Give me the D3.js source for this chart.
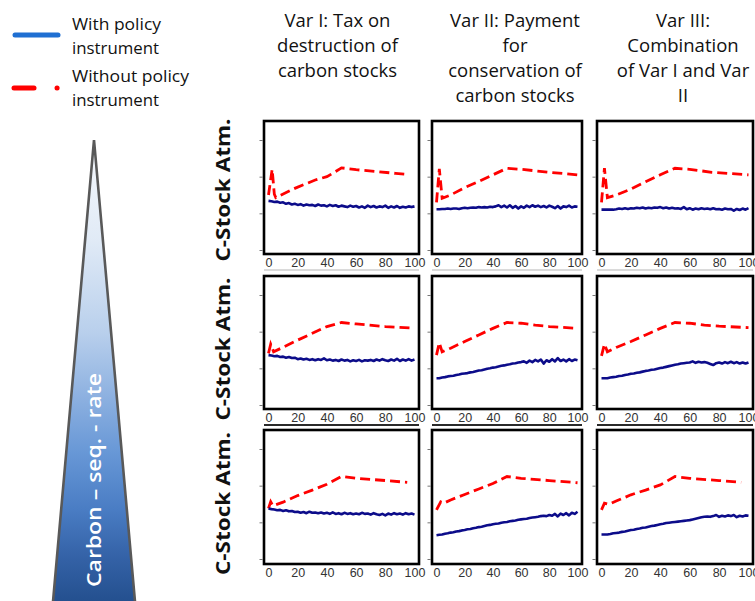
<!DOCTYPE html>
<html><head><meta charset="utf-8">
<script src="https://cdn.jsdelivr.net/npm/d3@7"></script>
<style>html,body{margin:0;padding:0;background:#fff;} svg{display:block;}</style>
</head><body><svg id="c" width="755" height="601"></svg>
<script>
// ---------- DATA ----------
const legendLabels = [["With policy", "instrument"], ["Without policy", "instrument"]];
const columnTitles = [
  ["Var I: Tax on", "destruction of", "carbon stocks"],
  ["Var II: Payment", "for", "conservation of", "carbon stocks"],
  ["Var III:", "Combination", "of Var I and Var", "II"]
];
const rowLabel = "C-Stock Atm.";
const rateLabel = "Carbon \u2013 seq. - rate";
const xTicks = [0, 20, 40, 60, 80, 100];
const yTicks = [0, 1, 2, 3];
const timeSteps = [0,2,4,6,8,10,12,14,16,18,20,22,24,26,28,30,32,34,36,38,40,42,44,46,48,50,52,54,56,58,60,62,64,66,68,70,72,74,76,78,80,82,84,86,88,90,92,94,96,98,100];

// "With policy instrument" (blue) – one value per time step
const withPolicyR1C1 = [1.34,1.33,1.31,1.32,1.29,1.30,1.26,1.28,1.24,1.26,1.23,1.25,1.21,1.24,1.22,1.23,1.20,1.24,1.21,1.22,1.19,1.23,1.20,1.22,1.18,1.21,1.19,1.17,1.21,1.18,1.20,1.16,1.19,1.15,1.21,1.17,1.20,1.16,1.19,1.17,1.21,1.15,1.19,1.16,1.20,1.15,1.18,1.16,1.19,1.17,1.19];
const withPolicyR1C2 = [1.11,1.11,1.12,1.12,1.13,1.12,1.13,1.13,1.12,1.14,1.15,1.14,1.15,1.16,1.15,1.17,1.16,1.17,1.16,1.18,1.17,1.19,1.22,1.17,1.21,1.16,1.22,1.15,1.20,1.13,1.19,1.15,1.21,1.17,1.22,1.18,1.21,1.17,1.20,1.16,1.21,1.18,1.14,1.20,1.13,1.19,1.17,1.21,1.16,1.19,1.18];
const withPolicyR1C3 = [1.10,1.10,1.10,1.10,1.10,1.11,1.13,1.12,1.14,1.12,1.14,1.13,1.15,1.14,1.16,1.13,1.15,1.14,1.16,1.15,1.17,1.14,1.16,1.13,1.15,1.13,1.14,1.12,1.17,1.11,1.14,1.10,1.13,1.11,1.14,1.12,1.13,1.11,1.14,1.11,1.12,1.10,1.13,1.11,1.12,1.07,1.12,1.09,1.13,1.10,1.14];
const withPolicyR2C1 = [1.36,1.35,1.33,1.34,1.31,1.32,1.29,1.31,1.28,1.29,1.25,1.27,1.24,1.26,1.23,1.25,1.22,1.25,1.23,1.27,1.22,1.24,1.21,1.23,1.20,1.24,1.21,1.23,1.19,1.22,1.20,1.23,1.19,1.22,1.21,1.23,1.20,1.24,1.21,1.25,1.22,1.20,1.24,1.21,1.26,1.20,1.24,1.21,1.25,1.21,1.24];
const withPolicyR2C2 = [0.73,0.73,0.75,0.76,0.78,0.79,0.80,0.82,0.83,0.85,0.86,0.87,0.89,0.90,0.92,0.94,0.95,0.97,0.99,1.00,1.02,1.03,1.05,1.07,1.08,1.10,1.11,1.13,1.14,1.16,1.17,1.19,1.15,1.21,1.17,1.23,1.19,1.24,1.13,1.22,1.18,1.25,1.19,1.28,1.20,1.24,1.19,1.25,1.20,1.24,1.22];
const withPolicyR2C3 = [0.73,0.73,0.73,0.75,0.76,0.77,0.79,0.80,0.82,0.83,0.85,0.86,0.88,0.89,0.91,0.93,0.94,0.96,0.97,0.99,1.01,1.02,1.04,1.06,1.08,1.10,1.11,1.13,1.14,1.15,1.16,1.19,1.15,1.18,1.16,1.17,1.15,1.12,1.09,1.14,1.16,1.13,1.17,1.14,1.18,1.14,1.17,1.13,1.16,1.13,1.16];
const withPolicyR3C1 = [1.38,1.36,1.35,1.33,1.34,1.31,1.33,1.30,1.31,1.28,1.29,1.26,1.28,1.25,1.29,1.26,1.27,1.25,1.27,1.24,1.26,1.23,1.27,1.23,1.25,1.22,1.26,1.23,1.25,1.22,1.24,1.22,1.26,1.23,1.24,1.21,1.25,1.22,1.20,1.23,1.19,1.24,1.21,1.25,1.22,1.24,1.21,1.25,1.22,1.24,1.21];
const withPolicyR3C2 = [0.65,0.66,0.67,0.69,0.70,0.72,0.73,0.75,0.76,0.78,0.79,0.81,0.82,0.84,0.85,0.87,0.88,0.90,0.92,0.93,0.95,0.96,0.97,0.99,1.00,1.01,1.03,1.04,1.05,1.07,1.08,1.09,1.10,1.12,1.13,1.14,1.15,1.17,1.18,1.17,1.20,1.18,1.23,1.16,1.24,1.20,1.25,1.19,1.26,1.23,1.29];
const withPolicyR3C3 = [0.67,0.67,0.67,0.68,0.70,0.71,0.72,0.74,0.75,0.77,0.79,0.80,0.82,0.83,0.85,0.86,0.88,0.90,0.91,0.93,0.95,0.96,0.98,0.99,1.00,1.01,1.02,1.03,1.04,1.05,1.06,1.08,1.10,1.12,1.14,1.15,1.16,1.15,1.17,1.20,1.15,1.18,1.16,1.19,1.17,1.20,1.14,1.18,1.16,1.19,1.18];

// "Without policy instrument" (red dashed) – [time step, value]
const withoutPolicyR1C1 = [[0,1.50],[2.5,2.20],[4,1.52],[5,1.43],[18,1.68],[32,1.91],[40,2.00],[46,2.14],[50,2.24],[60,2.19],[74,2.14],[87,2.09],[95,2.06]];
const withoutPolicyR1C2 = [[0,1.30],[2,2.21],[4,1.41],[10,1.50],[20,1.70],[30,1.87],[40,2.05],[50,2.23],[60,2.20],[80,2.12],[100,2.05]];
const withoutPolicyR1C3 = [[0,1.30],[2,2.23],[4,1.43],[10,1.50],[20,1.66],[30,1.86],[40,2.05],[50,2.23],[60,2.20],[75,2.12],[100,2.05]];
const withoutPolicyR2C1 = [[0,1.41],[1.5,1.66],[3.5,1.45],[20,1.77],[40,2.14],[50,2.25],[60,2.21],[80,2.14],[98,2.10]];
const withoutPolicyR2C2 = [[0,1.36],[2,1.70],[4,1.45],[10,1.55],[20,1.73],[30,1.91],[40,2.09],[50,2.25],[60,2.23],[70,2.18],[80,2.14],[100,2.09]];
const withoutPolicyR2C3 = [[0,1.34],[2,1.66],[4,1.45],[10,1.57],[20,1.73],[30,1.91],[40,2.09],[50,2.25],[60,2.23],[70,2.18],[80,2.15],[100,2.11]];
const withoutPolicyR3C1 = [[0,1.38],[1.5,1.56],[3,1.45],[10,1.55],[20,1.73],[30,1.88],[40,2.04],[50,2.25],[60,2.20],[80,2.14],[95,2.09]];
const withoutPolicyR3C2 = [[0,1.34],[3,1.56],[5,1.52],[10,1.61],[20,1.76],[30,1.91],[40,2.06],[50,2.25],[60,2.20],[80,2.14],[100,2.08]];
const withoutPolicyR3C3 = [[0,1.34],[2,1.52],[5,1.49],[10,1.58],[20,1.75],[30,1.88],[40,2.02],[50,2.25],[60,2.20],[80,2.14],[95,2.09]];

const withPolicy = [[withPolicyR1C1, withPolicyR1C2, withPolicyR1C3],
                    [withPolicyR2C1, withPolicyR2C2, withPolicyR2C3],
                    [withPolicyR3C1, withPolicyR3C2, withPolicyR3C3]];
const withoutPolicy = [[withoutPolicyR1C1, withoutPolicyR1C2, withoutPolicyR1C3],
                       [withoutPolicyR2C1, withoutPolicyR2C2, withoutPolicyR2C3],
                       [withoutPolicyR3C1, withoutPolicyR3C2, withoutPolicyR3C3]];

// ---------- LAYOUT ----------
const colX = [[264, 419], [432, 582], [597, 753]];
const rowY = [[121, 254], [276, 409], [430, 564]];
const headerCenters = [337.5, 515, 683];
const headerBaselines = [27, 52, 77, 102];
const rowLabelCenters = [190, 349, 503.5];
const sepColors = ["#b5b5b5", "#2a2a2a", null];
const FONT = "'Open Sans', 'Noto Sans', sans-serif";

const svg = d3.select("#c");

// gradient for triangle
const defs = svg.append("defs");
const grad = defs.append("linearGradient").attr("id", "tri").attr("gradientUnits", "userSpaceOnUse")
  .attr("x1", 0).attr("y1", 140).attr("x2", 0).attr("y2", 601);
[[0, "#f6f9fd"], [0.22, "#e0eaf6"], [0.42, "#b8cfec"], [0.56, "#8cb0e0"], [0.68, "#6797d6"], [0.8, "#4a7dc4"], [0.9, "#3563a8"], [1, "#24508f"]]
  .forEach(s => grad.append("stop").attr("offset", s[0]).attr("stop-color", s[1]));

// triangle
svg.append("path")
  .attr("d", "M94,140 L135.4,606 L52.6,606 Z")
  .attr("fill", "url(#tri)").attr("stroke", "#595959").attr("stroke-width", 2.6).attr("stroke-linejoin", "miter");
svg.append("text")
  .attr("transform", "translate(101,480) rotate(-90)")
  .attr("text-anchor", "middle").attr("font-family", FONT).attr("font-weight", 600)
  .attr("font-size", 20).attr("fill", "#fff")
  .attr("textLength", 214).attr("lengthAdjust", "spacingAndGlyphs")
  .text(rateLabel);

// legend
svg.append("line").attr("x1", 15).attr("x2", 58).attr("y1", 35).attr("y2", 35)
  .attr("stroke", "#1f6fd2").attr("stroke-width", 5).attr("stroke-linecap", "round");
svg.append("line").attr("x1", 14).attr("x2", 34).attr("y1", 88).attr("y2", 88)
  .attr("stroke", "#ff0000").attr("stroke-width", 5).attr("stroke-linecap", "round");
svg.append("line").attr("x1", 57).attr("x2", 57.1).attr("y1", 88).attr("y2", 88)
  .attr("stroke", "#ff0000").attr("stroke-width", 5).attr("stroke-linecap", "round");
const legendBase = [[30, 54], [82, 106]];
const legendWidths = [[89, 87], [117, 87]];
legendLabels.forEach((lines, i) => lines.forEach((t, j) => {
  svg.append("text").attr("x", 72).attr("y", legendBase[i][j])
    .attr("font-family", FONT).attr("font-size", 16).attr("fill", "#111")
    .attr("textLength", legendWidths[i][j]).attr("lengthAdjust", "spacingAndGlyphs")
    .text(t);
}));

// column headers
columnTitles.forEach((lines, c) => lines.forEach((t, j) => {
  svg.append("text").attr("x", headerCenters[c]).attr("y", headerBaselines[j])
    .attr("text-anchor", "middle").attr("font-family", FONT).attr("font-size", 18.5).attr("fill", "#111")
    .text(t);
}));

// row labels
rowLabelCenters.forEach(cy => {
  svg.append("text").attr("transform", `translate(230,${cy}) rotate(-90)`)
    .attr("text-anchor", "middle").attr("font-family", FONT).attr("font-weight", 700)
    .attr("font-size", 20).attr("fill", "#111")
    .attr("textLength", 143).attr("lengthAdjust", "spacingAndGlyphs")
    .text(rowLabel);
});

// panels
rowY.forEach(([y0, y1], r) => {
  colX.forEach(([x0, x1], c) => {
    const g = svg.append("g");
    const x = d3.scaleLinear().domain([0, 100]).range([x0 + 4.5, x1 - 4.5]);
    const y = d3.scaleLinear().domain([0, 3]).range([y0 + 129, y0 + 19]);

    if (sepColors[r]) {
      g.append("line").attr("x1", x0).attr("x2", x1).attr("y1", y1 + 16).attr("y2", y1 + 16)
        .attr("stroke", sepColors[r]).attr("stroke-width", r === 0 ? 1.2 : 2);
    }

    const ya = g.append("g").attr("transform", `translate(${x0 - 1.5},0)`)
      .call(d3.axisLeft(y).tickValues(yTicks).tickSize(3).tickFormat(""));
    ya.select(".domain").remove();
    ya.selectAll(".tick line").attr("stroke", "#777").attr("stroke-width", 1);

    const xa = g.append("g").attr("transform", `translate(0,${y1})`)
      .call(d3.axisBottom(x).tickValues(xTicks).tickSize(0).tickPadding(4.5));
    xa.select(".domain").remove();
    xa.selectAll(".tick text").attr("font-family", "'Liberation Sans', Arial, sans-serif")
      .attr("font-size", 12.5).attr("fill", "#333");

    const blue = timeSteps.map((t, i) => [t, withPolicy[r][c][i]]).filter(d => d[1] !== undefined);
    const line = d3.line().x(d => x(d[0])).y(d => y(d[1]));
    g.append("path").attr("d", line(withoutPolicy[r][c])).attr("fill", "none")
      .attr("stroke", "#ff0000").attr("stroke-width", 2.8).attr("stroke-dasharray", "10,5");
    g.append("path").attr("d", line(blue)).attr("fill", "none")
      .attr("stroke", "#0c0c8a").attr("stroke-width", 2.6).attr("stroke-linejoin", "round");

    g.append("rect").attr("x", x0).attr("y", y0).attr("width", x1 - x0).attr("height", y1 - y0)
      .attr("fill", "none").attr("stroke", "#000").attr("stroke-width", 2.6);
  });
});
</script></body></html>
